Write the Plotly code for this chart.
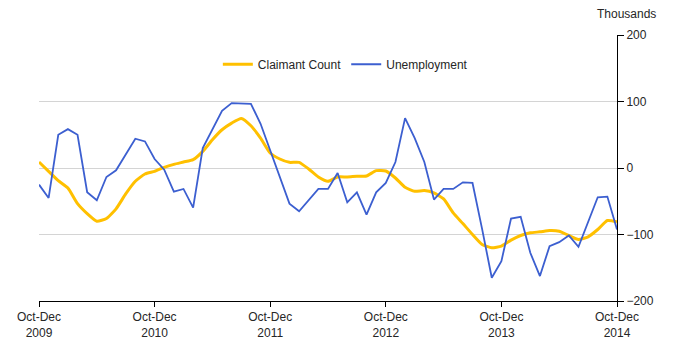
import plotly.graph_objects as go

months = ["Jan", "Feb", "Mar", "Apr", "May", "Jun", "Jul", "Aug", "Sep", "Oct", "Nov", "Dec"]
# rolling quarter labels, Oct-Dec 2009 .. Oct-Dec 2014
periods = []
for k in range(61):
    m0 = (9 + k) % 12
    yr = 2009 + (9 + k + 2) // 12
    periods.append(f"{months[m0]}-{months[(m0 + 2) % 12]} {yr}")

claimant_count = [9, -5, -19, -30, -53.5, -68.5, -80, -76, -61.5, -39,
                  -20, -9, -5, 1, 5.5, 9, 12.5, 25, 42.5, 57.5,
                  67.5, 74.5, 63.5, 45, 22.5, 13.5, 8.5, 8.5, -1.5, -13.5,
                  -20, -13.5, -13.5, -12.5, -12, -4, -4.5, -15, -29, -35,
                  -34, -37.5, -46.5, -67.5, -83.5, -100, -115, -120, -117.5, -108.5,
                  -101.5, -97.5, -96, -94, -95, -101.5, -107.5, -103.5, -92.5, -79,
                  -81]
unemployment = [-25, -45, 50, 58.5, 50, -36.5, -48.5, -13.5, -3.5, 20,
                44, 40, 13.5, -2.5, -35.5, -31.5, -59.5, 30, 58, 86,
                97.5, 97.5, 96.5, 66.5, 26, -14.5, -53.5, -65, -47.5, -31.5,
                -31.5, -7.5, -51.5, -36.5, -70, -36.5, -22.5, 9, 75, 45,
                9, -47.5, -31.5, -31.5, -21.5, -22.5, -92, -165, -140, -76,
                -73.5, -127.5, -162.5, -117.5, -111.5, -101.5, -118.5, -80, -44, -43,
                -92.5]

tick_periods = periods[::12]
tick_text = ["Oct-Dec<br>" + p.split(" ")[1] for p in tick_periods]
y_ticks = [-200, -100, 0, 100, 200]

font = dict(family="Liberation Sans, Arial, sans-serif", size=12, color="#262626")

fig = go.Figure()
fig.add_trace(go.Scatter(x=periods, y=claimant_count, name="Claimant Count",
                         mode="lines", line=dict(color="#FFC000", width=3, shape="spline", smoothing=0.5)))
fig.add_trace(go.Scatter(x=periods, y=unemployment, name="Unemployment",
                         mode="lines", line=dict(color="#3C5FD0", width=1.8)))

fig.update_layout(
    width=681, height=351,
    margin=dict(l=39, r=64, t=35, b=50),
    paper_bgcolor="white", plot_bgcolor="white",
    font=font,
    showlegend=True,
    legend=dict(orientation="h", x=0.53, xanchor="center", y=0.89, yanchor="middle",
                bgcolor="rgba(0,0,0,0)", font=font, itemwidth=30, tracegroupgap=0),
    xaxis=dict(type="category", range=[0, 60], tickvals=tick_periods, ticktext=tick_text,
               showline=True, linecolor="#000000", linewidth=1, ticks="outside",
               ticklen=5, tickcolor="#000000", showgrid=False, zeroline=False, fixedrange=True),
    yaxis=dict(range=[-200, 200], tickvals=y_ticks, side="right", showline=True,
               linecolor="#000000", linewidth=1, ticks="outside", ticklen=6,
               tickcolor="#000000", showgrid=True, gridcolor="#d4d4d4", gridwidth=1,
               zeroline=True, zerolinecolor="#d4d4d4", zerolinewidth=1, fixedrange=True),
    annotations=[dict(text="Thousands", xref="paper", yref="paper",
                      x=(626 - 39) / 578, y=1 + 21 / 266, xanchor="center", yanchor="middle",
                      showarrow=False, font=font)],
)

fig.write_html("out.html")
